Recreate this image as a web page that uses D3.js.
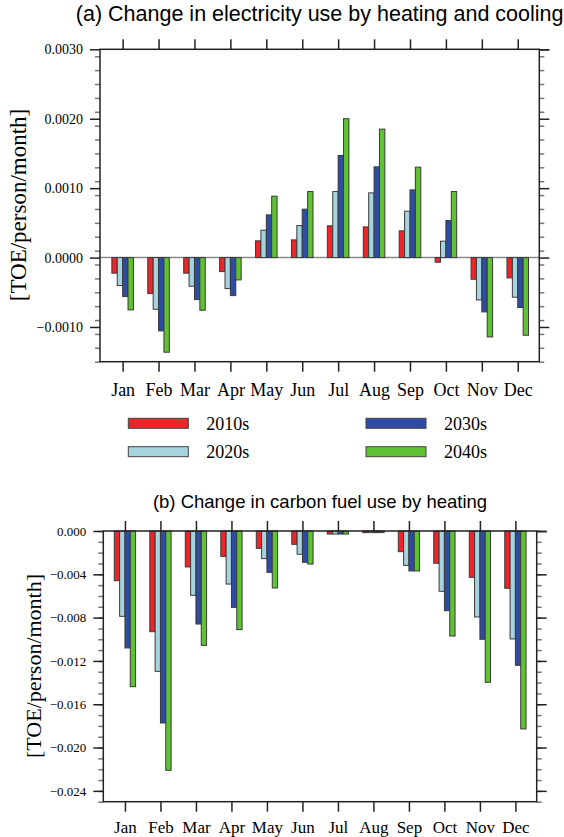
<!DOCTYPE html>
<html>
<head>
<meta charset="utf-8">
<script src="https://cdn.jsdelivr.net/npm/d3@7"></script>
<style>
  body { margin: 0; background: #fff; }
  svg { display: block; }
  .tick text { font-family: "Liberation Serif", "Times New Roman", serif; fill: #000; }
</style>
</head>
<body>
<svg id="graph" width="564" height="837"></svg>
<script>
var months = ["Jan", "Feb", "Mar", "Apr", "May", "Jun", "Jul", "Aug", "Sep", "Oct", "Nov", "Dec"];
var decades = ["2010s", "2020s", "2030s", "2040s"];
var colors = ["#ee2428", "#a6d4de", "#2e4ba6", "#5fc232"];

// (a) electricity use, TOE/person/month
var elec2010 = [-0.000225, -0.000519, -0.000225, -0.000202, 0.000241, 0.000255, 0.000457, 0.000442, 0.000385, -0.000067, -0.000312, -0.000293];
var elec2020 = [-0.000403, -0.000744, -0.000413, -0.000447, 0.000394, 0.000461, 0.000951, 0.000932, 0.000668, 0.000236, -0.00061, -0.000571];
var elec2030 = [-0.000562, -0.001056, -0.000605, -0.000548, 0.000615, 0.000697, 0.00147, 0.001307, 0.000975, 0.000533, -0.000783, -0.00072];
var elec2040 = [-0.000754, -0.001363, -0.000759, -0.000322, 0.000884, 0.000951, 0.002, 0.00185, 0.001302, 0.000951, -0.001143, -0.001119];

// (b) carbon fuel use, TOE/person/month
var fuel2010 = [-0.00459, -0.0093, -0.00332, -0.00234, -0.0016, -0.00123, -0.00028, -0.00015, -0.00191, -0.00298, -0.00428, -0.00529];
var fuel2020 = [-0.00788, -0.01296, -0.00594, -0.0049, -0.00255, -0.00215, -0.00028, -0.00015, -0.00317, -0.00557, -0.00794, -0.00997];
var fuel2030 = [-0.0108, -0.01773, -0.00859, -0.00705, -0.00382, -0.00289, -0.00028, -0.00015, -0.00369, -0.00736, -0.01, -0.0124];
var fuel2040 = [-0.01438, -0.0221, -0.01056, -0.00911, -0.00526, -0.00305, -0.00028, -0.00015, -0.00369, -0.0097, -0.01397, -0.01828];

var elecTicks = [-0.001, 0, 0.001, 0.002, 0.003];
var fuelTicks = [-0.024, -0.020, -0.016, -0.012, -0.008, -0.004, 0];

var svg = d3.select("#graph");
var serif = "'Liberation Serif', 'Times New Roman', serif";
var sans = "'Liberation Sans', Arial, sans-serif";

function panel(opt) {
    var x = d3.scaleLinear().domain(opt.xdom).range([opt.left, opt.right]);
    var y = d3.scaleLinear().domain(opt.ydom).range([opt.bottom, opt.top]);
    var g = svg.append("g");
    var bw = 0.15;

    // zero line
    if (opt.zeroLine) {
        g.append("line")
            .attr("x1", opt.left).attr("x2", opt.right)
            .attr("y1", y(0)).attr("y2", y(0))
            .attr("stroke", "#8a8a8a").attr("stroke-width", 1.5);
    }

    opt.series.forEach(function(vals, si) {
        g.append("g").selectAll("rect")
            .data(vals)
            .join("rect")
            .attr("x", (d, i) => x(i + 1 + (si - 2) * bw))
            .attr("width", x(bw) - x(0))
            .attr("y", d => y(Math.max(0, d)))
            .attr("height", d => Math.abs(y(d) - y(0)))
            .attr("fill", colors[si])
            .attr("stroke", "#3a3a3a")
            .attr("stroke-width", 1);
    });

    var minor = d3.range(opt.ydom[0], opt.ydom[1] + opt.minorStep / 2, opt.minorStep);
    var monthPos = d3.range(1, 13);

    function styleAxis(a, col) {
        a.select(".domain").remove();
        a.selectAll(".tick line").attr("stroke", col).attr("stroke-width", 1.5);
    }

    // minor y ticks, left and right
    g.append("g").attr("transform", `translate(${opt.left},0)`)
        .call(d3.axisLeft(y).tickValues(minor).tickSize(5).tickFormat(""))
        .call(a => styleAxis(a, "#777"));
    g.append("g").attr("transform", `translate(${opt.right},0)`)
        .call(d3.axisRight(y).tickValues(minor).tickSize(5).tickFormat(""))
        .call(a => styleAxis(a, "#777"));

    // major y ticks
    g.append("g").attr("transform", `translate(${opt.left},0)`)
        .call(d3.axisLeft(y).tickValues(opt.yticks).tickSize(10).tickPadding(7).tickFormat(d3.format(opt.fmt)))
        .call(a => styleAxis(a, "#222"))
        .call(a => a.selectAll("text").attr("font-size", opt.ytickFont));
    g.append("g").attr("transform", `translate(${opt.right},0)`)
        .call(d3.axisRight(y).tickValues(opt.yticks.concat([opt.ydom[1]])).tickSize(10).tickFormat(""))
        .call(a => styleAxis(a, "#222"));

    // month ticks
    g.append("g").attr("transform", `translate(0,${opt.top})`)
        .call(d3.axisTop(x).tickValues(monthPos).tickSize(10).tickFormat(""))
        .call(a => styleAxis(a, "#222"));
    g.append("g").attr("transform", `translate(0,${opt.bottom})`)
        .call(d3.axisBottom(x).tickValues(monthPos).tickSize(10).tickPadding(opt.xpad).tickFormat(d => months[d - 1]))
        .call(a => styleAxis(a, "#222"))
        .call(a => a.selectAll("text").attr("font-size", opt.xtickFont));

    // frame
    g.append("rect")
        .attr("x", opt.left).attr("y", opt.top)
        .attr("width", opt.right - opt.left).attr("height", opt.bottom - opt.top)
        .attr("fill", "none").attr("stroke", "#222").attr("stroke-width", 1.5);

    // titles
    svg.append("text")
        .attr("x", (opt.left + opt.right) / 2).attr("y", opt.titleY)
        .attr("text-anchor", "middle")
        .attr("font-family", sans).attr("font-size", opt.titleFont)
        .text(opt.title);
    svg.append("text")
        .attr("transform", `translate(${opt.ytitleX},${opt.ytitleY}) rotate(-90)`)
        .attr("text-anchor", "middle").attr("dy", "0.35em")
        .attr("font-family", serif).attr("font-size", opt.ytitleFont)
        .text("[TOE/person/month]");
}

panel({
    left: 100, right: 539.3, top: 49.3, bottom: 361.7,
    xdom: [0.37, 12.6], ydom: [-0.0015, 0.003],
    series: [elec2010, elec2020, elec2030, elec2040],
    yticks: elecTicks, minorStep: 0.0002, fmt: ".4f", ytickFont: 14,
    xpad: 12, xtickFont: 18, zeroLine: true,
    title: "(a) Change in electricity use by heating and cooling",
    titleY: 21, titleFont: 21.5,
    ytitleX: 18, ytitleY: 205, ytitleFont: 23
});

panel({
    left: 103.3, right: 536.7, top: 531, bottom: 801.7,
    xdom: [0.39, 12.6], ydom: [-0.025, 0],
    series: [fuel2010, fuel2020, fuel2030, fuel2040],
    yticks: fuelTicks, minorStep: 0.001, fmt: ".3f", ytickFont: 13,
    xpad: 9, xtickFont: 17, zeroLine: false,
    title: "(b) Change in carbon fuel use by heating",
    titleY: 508, titleFont: 18.5,
    ytitleX: 33, ytitleY: 666, ytitleFont: 22
});

// legend
var legPos = [[128.3, 418.3], [128.3, 446.7], [366, 418.3], [366, 446.7]];
var leg = svg.append("g").selectAll("g")
    .data(decades)
    .join("g")
    .attr("transform", (d, i) => `translate(${legPos[i][0]},${legPos[i][1]})`);
leg.append("rect")
    .attr("width", 60).attr("height", 10)
    .attr("fill", (d, i) => colors[i])
    .attr("stroke", "#444").attr("stroke-width", 1);
leg.append("text")
    .attr("x", 78).attr("y", 11.5)
    .attr("font-family", serif).attr("font-size", 18)
    .text(d => d);
</script>
</body>
</html>
